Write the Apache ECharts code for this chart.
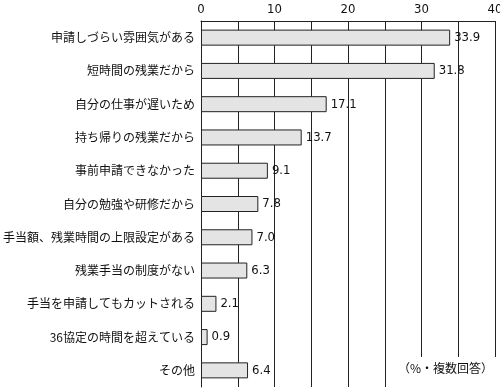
<!DOCTYPE html>
<html><head><meta charset="utf-8">
<script src="https://cdn.jsdelivr.net/npm/echarts@6/dist/echarts.min.js"></script>
<style>html,body{margin:0;padding:0;background:#fff}#c{width:500px;height:390px}</style>
</head><body><div id="c"></div>
<script>
const categories = ['申請しづらい雰囲気がある','短時間の残業だから','自分の仕事が遅いため','持ち帰りの残業だから','事前申請できなかった','自分の勉強や研修だから','手当額、残業時間の上限設定がある','残業手当の制度がない','手当を申請してもカットされる','36協定の時間を超えている','その他'];
const values = [33.9,31.8,17.1,13.7,9.1,7.8,7.0,6.3,2.1,0.9,6.4];
const tickLabels = ['0','10','20','30','40'];
const note = '（%・複数回答）';
const chart = echarts.init(document.getElementById('c'));
chart.setOption({
  animation:false,
  grid:{left:201,right:5,top:21,bottom:3,containLabel:false,outerBoundsMode:'none'},
  xAxis:{type:'value',position:'top',min:0,max:40,interval:5,
    axisLine:{show:true,lineStyle:{color:'#222',width:1}},
    axisTick:{show:false},
    axisLabel:{color:'#111',fontSize:13,fontFamily:'DejaVu Sans Condensed, Liberation Sans, sans-serif',margin:5,
      formatter:v=> (v%10===0? tickLabels[v/10] : '')},
    splitLine:{show:true,lineStyle:{color:'#222',width:1}}},
  yAxis:{type:'category',inverse:true,data:categories,
    axisLine:{show:true,lineStyle:{color:'#222',width:1}},
    axisTick:{show:false},
    axisLabel:{color:'#111',fontSize:12,fontFamily:'Noto Sans CJK JP, sans-serif',margin:6}},
  series:[{type:'bar',data:values,barWidth:16,
    itemStyle:{color:'#e4e4e4',borderColor:'#222',borderWidth:1},
    label:{show:true,position:'right',distance:4,color:'#111',fontSize:13,fontFamily:'DejaVu Sans Condensed, Liberation Sans, sans-serif',formatter:p=>p.value.toFixed(1)}}],
  graphic:[
    {type:'rect',z:100,shape:{x:396,y:357,width:104,height:33},style:{fill:'#fff'}},
    {type:'text',z:101,left:398,top:362,style:{text:note,fontSize:12,fill:'#111',fontFamily:'Noto Sans CJK JP, sans-serif'}}
  ]
});
</script></body></html>
